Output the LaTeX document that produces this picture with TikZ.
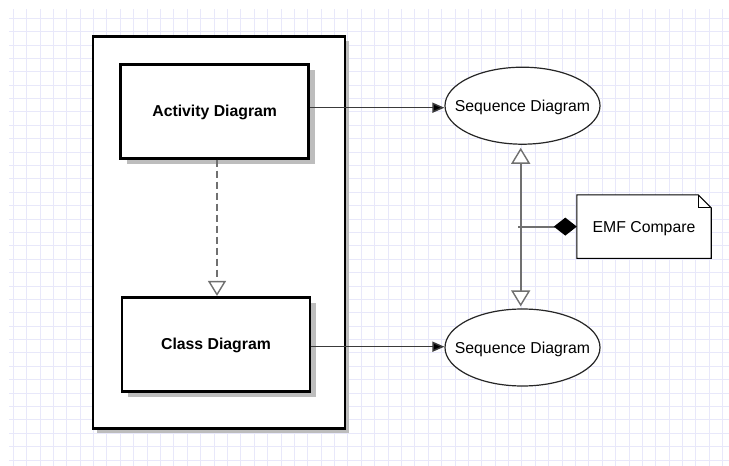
\documentclass[tikz,border=0pt]{standalone}
\usepackage{fontspec}
\setmainfont{Liberation Sans}
\usetikzlibrary{arrows.meta,shapes.geometric,shadows,calc}
\definecolor{gridc}{HTML}{E8E8FA}
\definecolor{shade}{HTML}{BDBDBD}
\definecolor{conn}{HTML}{3A3A3A}
\definecolor{relc}{HTML}{707070}
\tikzset{
  captext/.style={text height=11.3pt, text depth=0pt},
  box/.style={draw=black, fill=white, line width=2.6pt, minimum width=188pt, minimum height=94pt,
    inner sep=0pt, font=\fontsize{15.8}{18}\selectfont\bfseries, captext,
    drop shadow={shadow xshift=6pt, shadow yshift=-6pt, fill=shade, opacity=1}},
  frame/.style={draw=black, fill=white, line width=2.7pt, minimum width=252pt, minimum height=392pt,
    inner sep=0pt, drop shadow={shadow xshift=4pt, shadow yshift=-4pt, fill=shade, opacity=1}},
  usecase/.style={ellipse, draw=black!85, fill=white, line width=1.2pt, minimum width=155pt,
    minimum height=77pt, inner sep=0pt,
    label={[font=\fontsize{15.8}{18}\selectfont, inner sep=0pt, captext]center:#1}},
  flow/.style={draw=conn, line width=1.5pt, -{Triangle[length=12pt,width=10pt,fill=black]}},
  realize/.style={draw=relc, line width=2pt, dash pattern=on 7pt off 4pt,
    -{Triangle[open,length=15pt,width=18pt,fill=white,line width=1.4pt]}},
  refine/.style={draw=relc, line width=2pt,
    {Triangle[open,length=16pt,width=19pt,fill=white,line width=1.4pt]}-{Triangle[open,length=16pt,width=19pt,fill=white,line width=1.4pt]}},
  owner/.style={draw=relc, line width=1.8pt, -{Diamond[length=23pt,width=18pt,fill=black,color=black]}},
}
\begin{document}
\begin{tikzpicture}[x=1pt,y=-1pt]
\useasboundingbox (0,0) rectangle (729,466);
\fill[white] (0,0) rectangle (729,466);
% background grid
\foreach \k in {0,...,53}{
  \draw[gridc, line width=1pt] ({13.3+\k*13.385},9) -- ({13.3+\k*13.385},466);
}
\foreach \k in {0,...,33}{
  \draw[gridc, line width=1pt] (9,{18.3+\k*13.385}) -- (729,{18.3+\k*13.385});
}

% package frame and its diagrams
\node[frame] (outer) at (219,232.5) {};
\node[box] (act) at (214.7,111.2) {Activity Diagram};
\node[box] (cls) at (216,344.2) {Class Diagram};

% sequence diagrams
\node[usecase=Sequence Diagram] (seq1) at (522.5,105.7) {};
\node[usecase=Sequence Diagram] (seq2) at (522.5,347.5) {};

% comparison note with folded corner
\node[minimum width=134pt, minimum height=63pt, inner sep=0pt] (note) at (644,226.6) {};
\draw[black, line width=1.1pt, fill=white]
  (note.north west) -- ($(note.north east)+(-13,0)$) -- ($(note.north east)+(0,13)$)
  -- (note.south east) -- (note.south west) -- cycle;
\draw[black, line width=1.1pt]
  ($(note.north east)+(-13,0)$) -- ($(note.north east)+(-13,13)$) -- ($(note.north east)+(0,13)$);
\node[font=\fontsize{15.8}{18}\selectfont, captext, inner sep=0pt] (notetext) at (note.center) {EMF Compare};

% connectors
\draw[flow] ([yshift=3.5pt]act.east) -- ([yshift=3.5pt]act.east -| seq1.west);
\draw[flow] ([yshift=-2.5pt]cls.east) -- ([yshift=-2.5pt]cls.east -| seq2.west);
\draw[realize] ([xshift=2.3pt]act.south) -- ([xshift=2.3pt]act.south |- cls.north);
\coordinate (mid) at ([xshift=-1.8pt]seq1.south |- note.west);
\draw[refine, shorten <=3pt, shorten >=2pt] ([xshift=-1.8pt]seq1.south) -- ([xshift=-1.8pt]seq2.north);
\draw[owner] ([xshift=-2.5pt]mid) -- (note.west);
\end{tikzpicture}
\end{document}
